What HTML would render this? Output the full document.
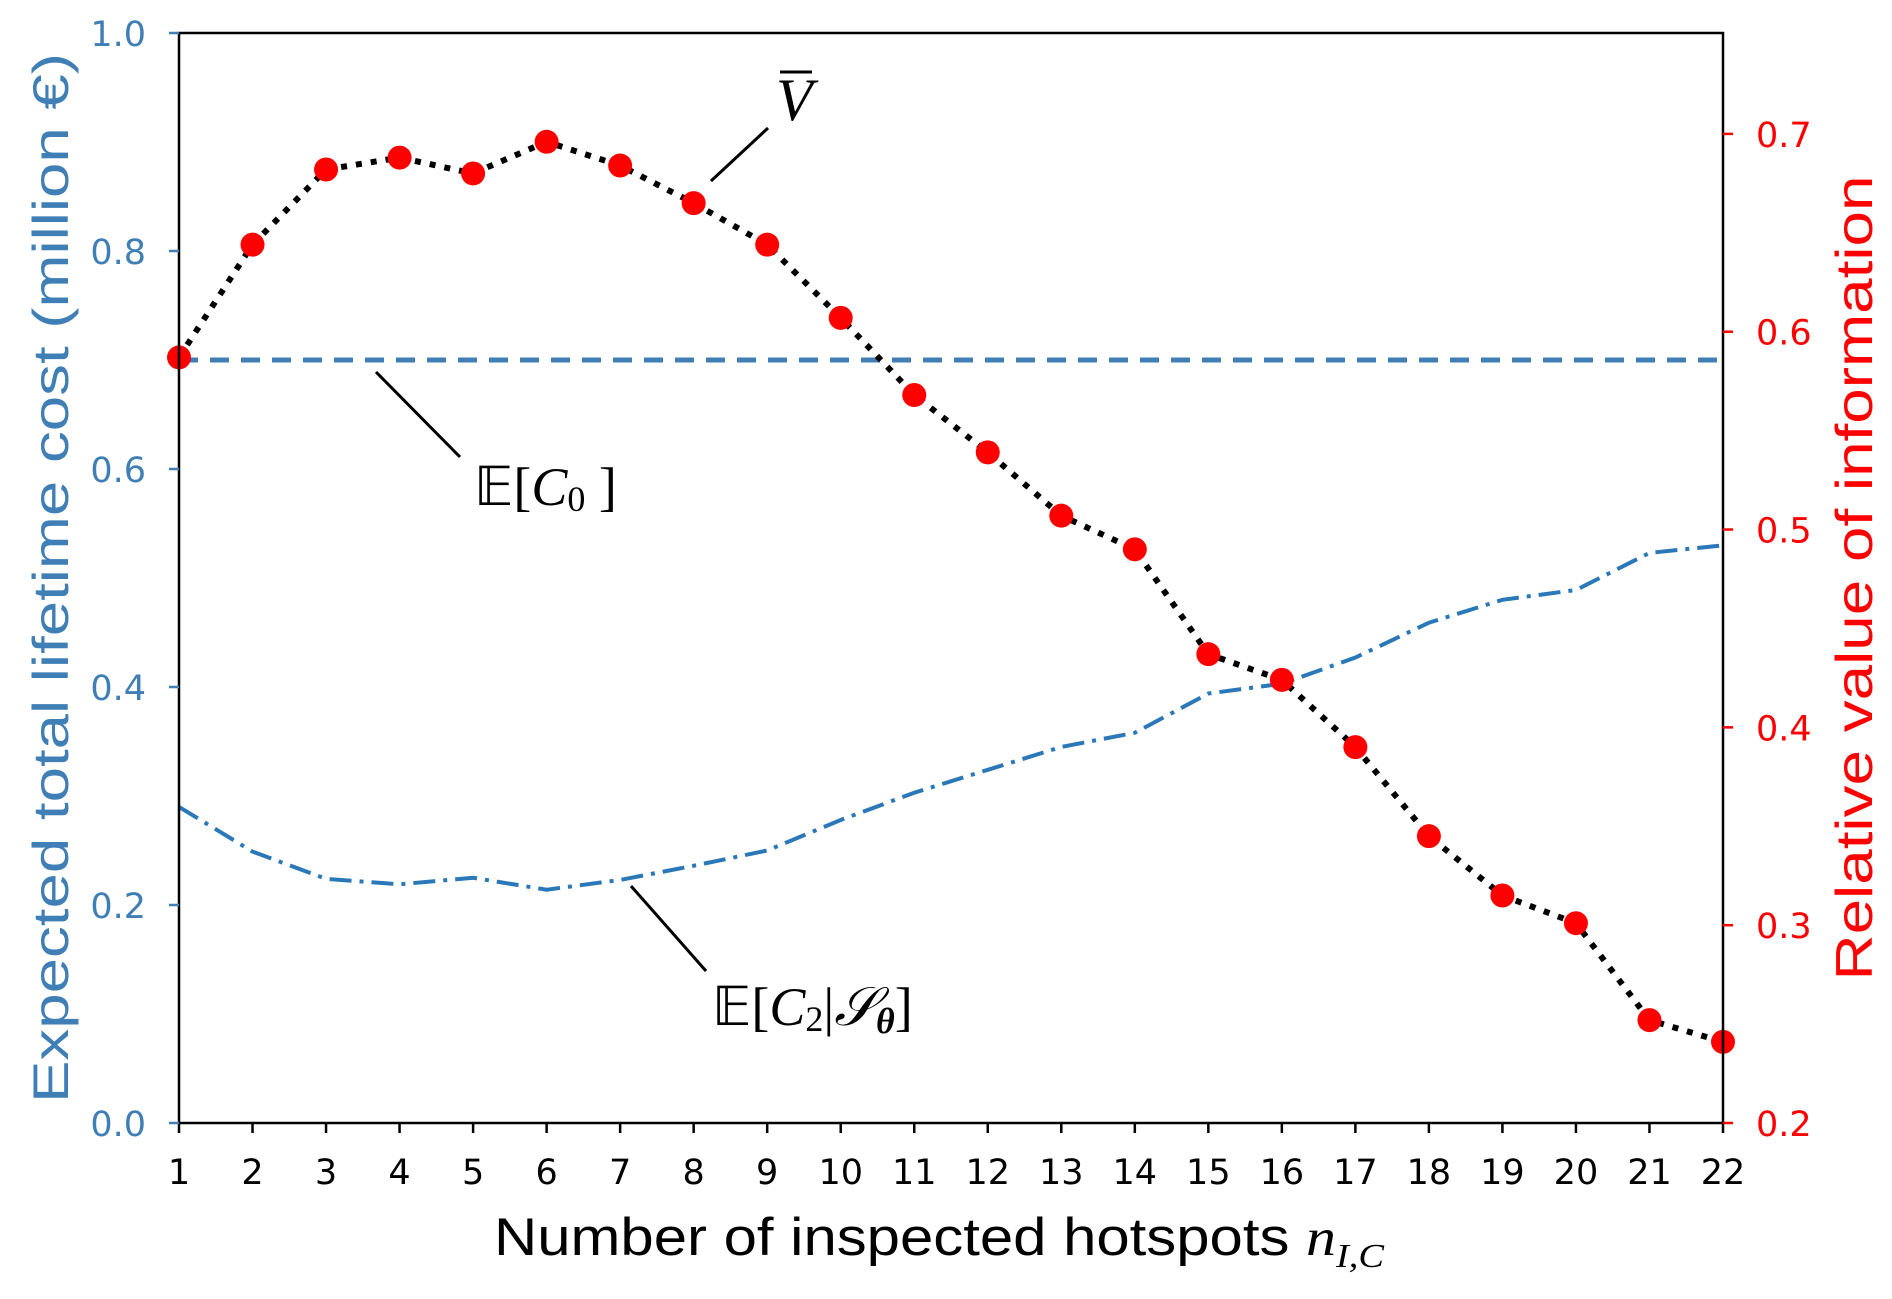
<!DOCTYPE html>
<html><head><meta charset="utf-8"><style>
html,body{margin:0;padding:0;background:#fff;}
svg{display:block;font-family:"Liberation Sans","DejaVu Sans",sans-serif;}
</style></head><body>
<svg id="chart" width="1892" height="1299" viewBox="0 0 1892 1299" xmlns="http://www.w3.org/2000/svg">
<g id="grid"></g>
</svg>
<script>
const categories = [1,2,3,4,5,6,7,8,9,10,11,12,13,14,15,16,17,18,19,20,21,22];
const vbarValues = [0.587,0.644,0.682,0.688,0.680,0.696,0.684,0.665,0.644,0.607,0.568,0.539,0.507,0.490,0.437,0.424,0.390,0.345,0.315,0.301,0.252,0.241];
const c2Values = [0.290,0.249,0.224,0.219,0.225,0.214,0.223,0.236,0.250,0.278,0.303,0.324,0.345,0.358,0.394,0.403,0.427,0.459,0.480,0.489,0.523,0.530];
const c0Value = 0.700;
const leftTicks = [0.0,0.2,0.4,0.6,0.8,1.0];
const rightTicks = [0.2,0.3,0.4,0.5,0.6,0.7];

const svg = document.getElementById('chart');
const NS = 'http://www.w3.org/2000/svg';
const L=179, R=1723, T=33, B=1123;
const TF = '"DejaVu Sans", sans-serif';
const xS = v => L + (v-1)/(21)*(R-L);
const yL = v => B - v*(B-T);
const yR = v => B - (v-0.2)/0.551*(B-T);
function mk(tag, attrs, parent){const e=document.createElementNS(NS,tag);for(const k in attrs)e.setAttribute(k,attrs[k]);(parent||svg).appendChild(e);return e;}

let e = mk('line',{x1:L,x2:R,y1:yL(c0Value),y2:yL(c0Value),stroke:'#3f7fb5','stroke-width':5,'stroke-dasharray':'19 12'});



e = mk('polyline',{points:categories.map((c,i)=>xS(c)+','+yL(c2Values[i])).join(' '),fill:'none',stroke:'#2a78b8','stroke-width':4,'stroke-dasharray':'22 8 4 8'});



e = mk('polyline',{points:categories.map((c,i)=>xS(c)+','+yR(vbarValues[i])).join(' '),fill:'none',stroke:'#000','stroke-width':6,'stroke-dasharray':'6 9'});


categories.forEach((c,i)=>{
  const m = mk('circle',{cx:xS(c),cy:yR(vbarValues[i]),r:12,fill:'#ff0000'});
  
  
});

e = mk('rect',{x:L,y:T,width:R-L,height:B-T,fill:'none',stroke:'#000','stroke-width':2.5});



categories.forEach(c=>{
  const t = mk('line',{x1:xS(c),x2:xS(c),y1:B,y2:B+10,stroke:'#000','stroke-width':2.5});
  
  
  const lb = mk('text',{x:xS(c),y:1184,'text-anchor':'middle','font-size':35,fill:'#000','font-family':TF});
  lb.textContent = c;
  
  
});
leftTicks.forEach(v=>{
  const t = mk('line',{x1:L-10,x2:L,y1:yL(v),y2:yL(v),stroke:'#3f7fb5','stroke-width':2.5});
  
  
  const lb = mk('text',{x:146,y:yL(v)+13,'text-anchor':'end','font-size':35,fill:'#3f7fb5','font-family':TF});
  lb.textContent = v.toFixed(1);
  
  
});
rightTicks.forEach(v=>{
  const t = mk('line',{x1:R,x2:R+10,y1:yR(v),y2:yR(v),stroke:'#ff0000','stroke-width':2.5});
  
  
  const lb = mk('text',{x:1756,y:yR(v)+13,'text-anchor':'start','font-size':35,fill:'#ff0000','font-family':TF});
  lb.textContent = v.toFixed(1);
  
  
});
</script>
<script>
const s2 = document.getElementById('chart');
s2.insertAdjacentHTML('beforeend', `
<text transform="translate(68,578) rotate(-90)" text-anchor="middle" font-size="50" fill="#3f7fb5" textLength="1050" lengthAdjust="spacingAndGlyphs">Expected total lifetime cost (million €)</text>
<text transform="translate(1872,578) rotate(-90)" text-anchor="middle" font-size="52" fill="#ff0000" textLength="805" lengthAdjust="spacingAndGlyphs">Relative value of information</text>
<text x="494" y="1255" font-size="53" fill="#000" textLength="890" lengthAdjust="spacingAndGlyphs">Number of inspected hotspots <tspan font-family="Liberation Serif" font-style="italic">n</tspan><tspan font-family="Liberation Serif" font-style="italic" font-size="34" dy="12">I,C</tspan></text>
<line x1="768" y1="128" x2="711" y2="181" stroke="#000" stroke-width="3"/>
<text x="776" y="120" font-family="Liberation Serif" font-style="italic" font-size="60" fill="#000">V</text>
<line x1="780" y1="72" x2="812" y2="72" stroke="#000" stroke-width="3"/>
<line x1="376" y1="372" x2="460" y2="457" stroke="#000" stroke-width="3"/>
<text x="474" y="505" font-family="Liberation Serif" font-size="54" fill="#000">𝔼[<tspan font-style="italic">C</tspan><tspan font-size="36" dy="6">0</tspan><tspan dy="-6"> ]</tspan></text>
<line x1="631" y1="886" x2="706" y2="971" stroke="#000" stroke-width="3"/>
<text x="712" y="1025" font-family="Liberation Serif" font-size="54" fill="#000">𝔼[<tspan font-style="italic">C</tspan><tspan font-size="36" dy="6">2</tspan><tspan dy="-6">|</tspan><tspan font-style="italic">𝒮</tspan><tspan font-size="36" font-weight="bold" font-style="italic" dy="8">θ</tspan><tspan dy="-8">]</tspan></text>
`);
</script>
</body></html>
